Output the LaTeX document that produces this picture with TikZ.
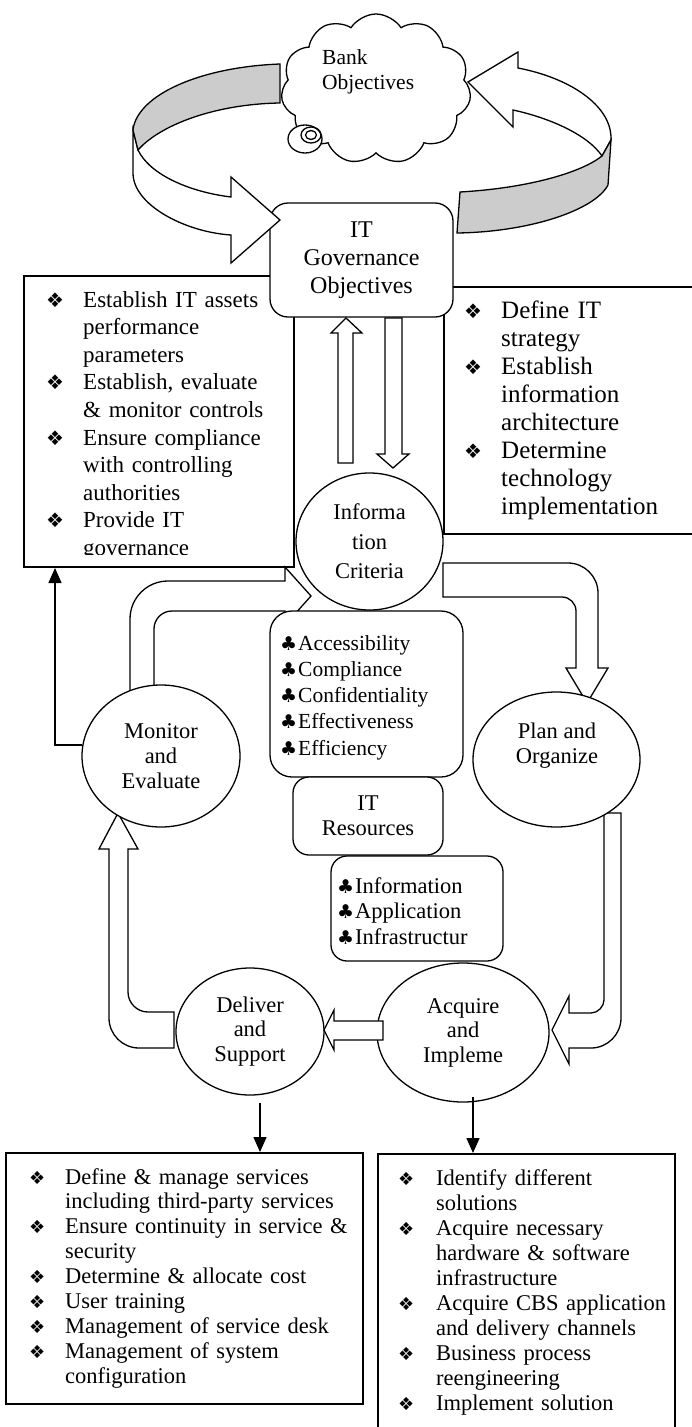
\documentclass[tikz,border=0pt]{standalone}
\usepackage{fontspec}
\setmainfont{Liberation Serif}
\newfontfamily\symfont{DejaVu Sans}
\usetikzlibrary{shapes.geometric,shapes.symbols,arrows.meta}
\definecolor{ribbon}{RGB}{204,204,204}
\newcommand{\dia}[1]{{\symfont\fontsize{#1}{#1}\selectfont ❖}}
\newcommand{\clb}{{\symfont\fontsize{19}{19}\selectfont ♣}}
\newcommand{\itm}[3]{\hangindent=#1\hangafter=1\noindent\makebox[#1][l]{#2}#3\par}
\tikzset{
  outl/.style={draw, line width=1.3pt},
  blockarrow/.style={draw, line width=1.3pt, fill=white, line join=miter},
  ribbonwhite/.style={draw, line width=1.3pt, fill=white, line join=miter},
  ribbongrey/.style={draw, line width=1.3pt, fill=ribbon},
  listbox/.style={draw, line width=2pt, fill=white, inner sep=0pt, anchor=north west},
  roundbox/.style={draw, line width=1.3pt, fill=white, rounded corners=#1, inner sep=0pt, align=center},
  oval/.style={ellipse, draw, line width=1.3pt, fill=white, inner sep=0pt, align=center},
  listtext/.style={anchor=base west, inner sep=0pt, text width=#1},
  tarrow/.style={line width=1.5pt, -{Triangle[length=15pt,width=13pt]}},
}
\begin{document}
\begin{tikzpicture}[x=1pt,y=-1pt]
\useasboundingbox (0,0) rectangle (692,1427);
\clip (0,0) rectangle (692,1427);

% ---------- list boxes (behind the central nodes)
\node[listbox, minimum width=270pt, minimum height=291pt] (lbox) at (23,275) {};
\node[listbox, minimum width=270pt, minimum height=247pt] (rbox) at (443,286) {};

% ---------- block arrows behind nodes
% Monitor -> Information Criteria
\path[blockarrow] (130,700) -- (130,619) .. controls (130,598) and (147,581) .. (168,581)
  -- (285,581) -- (285,567) -- (311,596) -- (285,625) -- (285,611) -- (172,611)
  .. controls (162,611) and (154,619) .. (154,629) -- (154,700) -- cycle;
% Information Criteria -> Plan and Organize
\path[blockarrow] (443,563) -- (568,563) .. controls (584.5,563) and (598,576.5) .. (598,593)
  -- (598,668) -- (608,668) -- (587,703) -- (566,668) -- (576,668) -- (576,611)
  .. controls (576,603.3) and (569.7,597) .. (562,597) -- (443,597) -- cycle;
% Plan and Organize -> Acquire and Implement
\path[blockarrow] (604,813) -- (621,813) -- (621,1018) .. controls (621,1034.5) and (607.5,1048) .. (591,1048)
  -- (569,1048) -- (569,1064) -- (552,1030) -- (569,996) -- (569,1013) -- (591,1013)
  .. controls (598.2,1013) and (604,1006.2) .. (604,1000) -- cycle;
% Deliver and Support -> Monitor and Evaluate
\path[blockarrow] (174,1048) -- (139,1048) .. controls (122.5,1048) and (109,1034.5) .. (109,1018)
  -- (109,849) -- (99,849) -- (118,813) -- (138,849) -- (128,849) -- (128,992)
  .. controls (128,1003) and (137,1012) .. (148,1012) -- (174,1012) -- cycle;
% double arrows between IT Governance and Information Criteria
\path[blockarrow] (338,463) -- (338,333) -- (331,333) -- (346,318) -- (362,333) -- (353,333) -- (353,463) -- cycle;
\path[blockarrow] (385,318) -- (385,454) -- (377,454) -- (393,468) -- (409,454) -- (402,454) -- (402,318) -- cycle;

% ---------- central nodes
\node[roundbox=18pt, minimum width=183pt, minimum height=114pt,
      font=\fontsize{24}{28}\selectfont] (itgov) at (361.5,260) {IT\\Governance\\Objectives};
\node[oval, minimum width=147pt, minimum height=137pt,
      font=\fontsize{22.5}{29.5}\selectfont] (info) at (369.5,541.5) {Informa\\tion\\Criteria};
\node[roundbox=22pt, minimum width=193pt, minimum height=166pt] (acc) at (366.5,694) {};
\node[roundbox=16pt, minimum width=150pt, minimum height=78pt,
      font=\fontsize{22.5}{25}\selectfont] (itres) at (368,816) {IT\\Resources};
\node[roundbox=16pt, minimum width=172pt, minimum height=105pt] (res) at (417,908.5) {};
\node[oval, minimum width=158pt, minimum height=142pt,
      font=\fontsize{22.5}{25}\selectfont] (mon) at (161,756) {Monitor\\and\\Evaluate};
\node[oval, minimum width=167pt, minimum height=135pt] (plan) at (556.5,759.5) {};
\node[inner sep=0pt, align=center, font=\fontsize{22.5}{25}\selectfont] (plantxt) at (557,746) {Plan and\\Organize};
\node[oval, minimum width=172pt, minimum height=139pt,
      font=\fontsize{22.5}{24.5}\selectfont] (acq) at (463,1032.5) {Acquire\\and\\Impleme};
\node[oval, minimum width=148pt, minimum height=127pt,
      font=\fontsize{22.5}{24.5}\selectfont] (del) at (250,1031.5) {Deliver\\and\\Support};

% Acquire -> Deliver (drawn over the circle)
\path[blockarrow] (383,1021) -- (334,1021) -- (334,1010) -- (324,1030) -- (334,1050) -- (334,1040) -- (383,1040) -- cycle;

% ---------- list texts
\begin{scope}
\clip (23,275) rectangle (293,554);
\node[listtext=260pt, font=\fontsize{23}{27.6}\selectfont] (ltxt) at (46,307) {%
\itm{37pt}{\dia{20}}{Establish IT assets\newline performance\newline parameters}%
\itm{37pt}{\dia{20}}{Establish, evaluate\newline \& monitor controls}%
\itm{37pt}{\dia{20}}{Ensure compliance\newline with controlling\newline authorities}%
\itm{37pt}{\dia{20}}{Provide IT\newline governance}};
\end{scope}
\node[listtext=240pt, font=\fontsize{25}{28.1}\selectfont] (rtxt) at (464,318) {%
\itm{37pt}{\dia{20}}{Define IT\newline strategy}%
\itm{37pt}{\dia{20}}{Establish\newline information\newline architecture}%
\itm{37pt}{\dia{20}}{Determine\newline technology\newline implementation}};
\node[listtext=190pt, font=\fontsize{21.5}{26.25}\selectfont] (acctxt) at (280,650) {%
\itm{18pt}{\clb}{Accessibility}%
\itm{18pt}{\clb}{Compliance}%
\itm{18pt}{\clb}{Confidentiality}%
\itm{18pt}{\clb}{Effectiveness}%
\itm{18pt}{\clb}{Efficiency}};
\node[listtext=170pt, font=\fontsize{22.5}{25.5}\selectfont] (restxt) at (337,893) {%
\itm{18pt}{\clb}{Information}%
\itm{18pt}{\clb}{Application}%
\itm{18pt}{\clb}{Infrastructur}};

% ---------- cloud and ribbons
\node[cloud, draw, line width=1.3pt, fill=white, cloud puffs=11, cloud puff arc=115, aspect=1.25,
      minimum width=190pt, minimum height=150pt, inner sep=0pt] (cloud) at (376,89) {};
\node[listtext=120pt, font=\fontsize{21.5}{25}\selectfont] (cloudtxt) at (322,64) {Bank\newline Objectives};
\filldraw[outl, fill=white] (305,139) ellipse [x radius=17pt, y radius=14pt];
\draw[outl] (311,135) ellipse [x radius=10pt, y radius=8pt];
\draw[outl] (311,135) ellipse [x radius=5.5pt, y radius=4.5pt];

% left ribbon (cloud -> IT Governance)
\path[ribbonwhite] (133,130) -- (133,173) .. controls (133,205) and (185,232) .. (231,235)
  -- (231,263) -- (280,220) -- (231,177) -- (231,197)
  .. controls (190,192) and (150,175) .. (138,150) -- cycle;
\path[ribbongrey] (280,64) .. controls (200,67) and (137,95) .. (133,130) -- (138,150)
  .. controls (160,125) and (215,104) .. (280,103) -- cycle;
% right ribbon (IT Governance -> cloud)
\path[ribbonwhite] (611,137) .. controls (610,105) and (570,78) .. (518,68) -- (518,52) -- (468,82)
  -- (513,127) -- (513,110) .. controls (550,118) and (588,135) .. (602,156) -- (611,140) -- cycle;
\path[ribbongrey] (460,192) .. controls (530,188) and (582,172) .. (602,156) -- (611,140) -- (608,185)
  .. controls (595,210) and (530,232) .. (457,233) -- cycle;

% ---------- bottom list boxes
\node[listbox, minimum width=357pt, minimum height=251pt] (dbox) at (5,1152) {};
\node[listbox, minimum width=297pt, minimum height=300pt] (abox) at (377,1153) {};
\node[listtext=350pt, font=\fontsize{22.5}{24.9}\selectfont] (dtxt) at (29,1184) {%
\itm{36pt}{\dia{18}}{Define \& manage services\newline including third-party services}%
\itm{36pt}{\dia{18}}{Ensure continuity in service \&\newline security}%
\itm{36pt}{\dia{18}}{Determine \& allocate cost}%
\itm{36pt}{\dia{18}}{User training}%
\itm{36pt}{\dia{18}}{Management of service desk}%
\itm{36pt}{\dia{18}}{Management of system\newline configuration}};
\node[listtext=290pt, font=\fontsize{22.5}{25}\selectfont] (atxt) at (398,1185) {%
\itm{38pt}{\dia{18}}{Identify different\newline solutions}%
\itm{38pt}{\dia{18}}{Acquire necessary\newline hardware \& software\newline infrastructure}%
\itm{38pt}{\dia{18}}{Acquire CBS application\newline and delivery channels}%
\itm{38pt}{\dia{18}}{Business process\newline reengineering}%
\itm{38pt}{\dia{18}}{Implement solution}};

% ---------- thin connectors
\draw[tarrow] (mon.172) -| ([xshift=32pt]lbox.south west);
\draw[tarrow] ([xshift=10pt,yshift=-7pt]del.south) -- ([xshift=10pt]del.south |- dbox.north);
\draw[tarrow] ([xshift=10pt,yshift=6pt]acq.south) -- ([xshift=10pt]acq.south |- abox.north);
\end{tikzpicture}
\end{document}
